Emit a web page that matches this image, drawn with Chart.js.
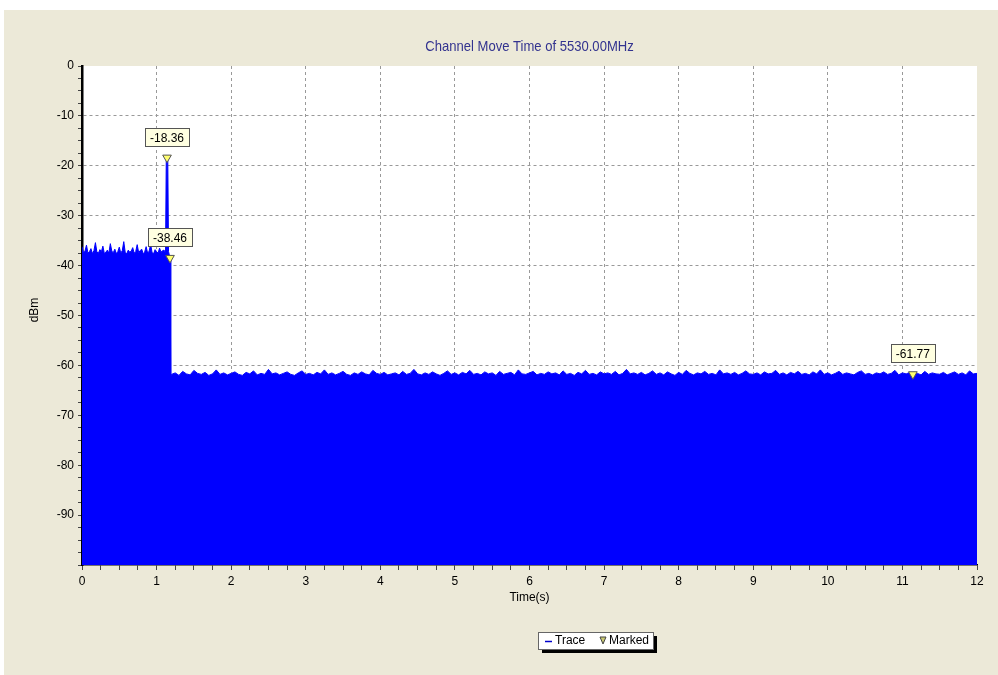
<!DOCTYPE html>
<html>
<head>
<meta charset="utf-8">
<script src="https://cdn.jsdelivr.net/npm/chart.js@4.4.0/dist/chart.umd.min.js"></script>
<style>
  html, body { margin: 0; padding: 0; background: #ffffff; }
  #wrap { position: absolute; left: 4px; top: 10px; width: 994px; height: 665px; background: #ece9d8; }
</style>
</head>
<body>
<div id="wrap"><canvas id="plot-channel"></canvas></div>
<script>
// trace before the channel move (s, dBm)
const timeBefore = [0, 0.02, 0.04, 0.06, 0.08, 0.10, 0.12, 0.14, 0.16, 0.18,
  0.20, 0.22, 0.24, 0.26, 0.28, 0.30, 0.32, 0.34, 0.36, 0.38,
  0.40, 0.42, 0.44, 0.46, 0.48, 0.50, 0.52, 0.54, 0.56, 0.58,
  0.60, 0.62, 0.64, 0.66, 0.68, 0.70, 0.72, 0.74, 0.76, 0.78,
  0.80, 0.82, 0.84, 0.86, 0.88, 0.90, 0.92, 0.94, 0.96, 0.98,
  1.00, 1.02, 1.04, 1.06, 1.08, 1.10, 1.12,
  1.13, 1.15, 1.16, 1.18];
const dbmBefore = [-36.2, -37.4, -37.1, -35.9, -37.5, -37.2, -36.6, -37.6, -37.0, -35.4,
  -37.3, -37.5, -36.8, -37.2, -36.1, -37.6, -37.3, -36.9, -37.5, -35.6,
  -37.1, -37.4, -36.7, -37.6, -37.2, -36.3, -37.5, -37.0, -35.2, -37.4,
  -37.6, -36.9, -37.3, -37.1, -36.4, -37.5, -37.2, -35.8, -37.4, -37.0,
  -36.7, -37.6, -37.3, -36.2, -37.5, -37.1, -35.7, -37.4, -37.6, -36.8,
  -37.2, -37.5, -36.5, -37.3, -37.0, -36.9, -37.4,
  -18.36, -18.36, -37.2, -38.46];

// trace after the channel move
const timeAfter = [1.19, 1.20, 1.25, 1.30, 1.35, 1.40, 1.45, 1.50, 1.55, 1.60, 1.65, 1.70, 1.75, 1.80, 1.85, 1.90, 1.95,
  2.00, 2.05, 2.10, 2.15, 2.20, 2.25, 2.30, 2.35, 2.40, 2.45, 2.50, 2.55, 2.60, 2.65, 2.70, 2.75, 2.80, 2.85, 2.90, 2.95,
  3.00, 3.05, 3.10, 3.15, 3.20, 3.25, 3.30, 3.35, 3.40, 3.45, 3.50, 3.55, 3.60, 3.65, 3.70, 3.75, 3.80, 3.85, 3.90, 3.95,
  4.00, 4.05, 4.10, 4.15, 4.20, 4.25, 4.30, 4.35, 4.40, 4.45, 4.50, 4.55, 4.60, 4.65, 4.70, 4.75, 4.80, 4.85, 4.90, 4.95,
  5.00, 5.05, 5.10, 5.15, 5.20, 5.25, 5.30, 5.35, 5.40, 5.45, 5.50, 5.55, 5.60, 5.65, 5.70, 5.75, 5.80, 5.85, 5.90, 5.95,
  6.00, 6.05, 6.10, 6.15, 6.20, 6.25, 6.30, 6.35, 6.40, 6.45, 6.50, 6.55, 6.60, 6.65, 6.70, 6.75, 6.80, 6.85, 6.90, 6.95,
  7.00, 7.05, 7.10, 7.15, 7.20, 7.25, 7.30, 7.35, 7.40, 7.45, 7.50, 7.55, 7.60, 7.65, 7.70, 7.75, 7.80, 7.85, 7.90, 7.95,
  8.00, 8.05, 8.10, 8.15, 8.20, 8.25, 8.30, 8.35, 8.40, 8.45, 8.50, 8.55, 8.60, 8.65, 8.70, 8.75, 8.80, 8.85, 8.90, 8.95,
  9.00, 9.05, 9.10, 9.15, 9.20, 9.25, 9.30, 9.35, 9.40, 9.45, 9.50, 9.55, 9.60, 9.65, 9.70, 9.75, 9.80, 9.85, 9.90, 9.95,
  10.00, 10.05, 10.10, 10.15, 10.20, 10.25, 10.30, 10.35, 10.40, 10.45, 10.50, 10.55, 10.60, 10.65, 10.70, 10.75, 10.80, 10.85, 10.90, 10.95,
  11.00, 11.05, 11.10, 11.15, 11.20, 11.25, 11.30, 11.35, 11.40, 11.45, 11.50, 11.55, 11.60, 11.65, 11.70, 11.75, 11.80, 11.85, 11.90, 11.95,
  12.00];
const dbmAfter = [-62.3,
  -61.8, -61.5, -62.0, -61.2, -61.7, -61.9, -61.0, -61.6, -61.8, -61.4,
  -62.0, -61.7, -60.9, -61.8, -61.5, -61.9, -61.6, -61.3, -61.8, -62.0,
  -61.4, -61.7, -61.1, -61.9, -61.6, -61.8, -60.8, -61.7, -61.5, -61.9,
  -61.6, -61.3, -61.8, -62.0, -61.5, -61.1, -61.8, -61.6, -61.9, -61.4,
  -61.7, -60.9, -61.8, -61.5, -61.9, -61.6, -61.2, -61.8, -62.0, -61.5,
  -61.8, -61.3, -61.7, -61.9, -61.0, -61.6, -61.8, -61.4, -61.9, -61.7,
  -61.5, -61.9, -61.2, -61.8, -61.6, -60.8, -61.7, -61.9, -61.5, -61.8,
  -61.3, -61.7, -62.0, -61.6, -61.1, -61.8, -61.5, -61.9, -61.4, -61.7,
  -61.0, -61.8, -61.6, -61.9, -61.3, -61.7, -61.5, -62.0, -61.2, -61.8,
  -61.6, -61.4, -61.9, -60.9, -61.7, -61.8, -61.5, -61.2, -61.9, -61.6,
  -61.8, -61.3, -61.7, -61.5, -61.9, -61.1, -61.8, -61.6, -62.0, -61.4,
  -61.7, -61.0, -61.8, -61.6, -61.9, -61.3, -61.7, -61.5, -61.8, -61.2,
  -61.9, -61.6, -60.8, -61.7, -61.5, -61.8, -61.4, -61.9, -61.6, -61.1,
  -61.8, -61.5, -61.9, -61.3, -61.7, -62.0, -61.4, -61.8, -61.0, -61.6,
  -61.9, -61.5, -61.7, -61.2, -61.8, -61.6, -61.9, -60.9, -61.7, -61.5,
  -61.8, -61.4, -61.9, -61.6, -61.1, -61.7, -61.8, -61.5, -61.9, -61.3,
  -61.7, -61.6, -61.0, -61.8, -61.5, -61.9, -61.4, -61.7, -61.2, -61.8,
  -61.6, -61.9, -61.3, -61.7, -60.9, -61.8, -61.5, -61.9, -61.6, -61.2,
  -61.8, -61.5, -61.7, -61.9, -61.4, -61.1, -61.8, -61.6, -61.9, -61.5,
  -61.7, -61.3, -61.8, -61.6, -61.0, -61.9, -61.5, -61.7, -61.4, -61.8,
  -61.6, -61.9, -61.2, -61.8, -61.5, -61.7, -61.77, -61.4, -61.9, -61.6,
  -61.3, -61.8, -61.5, -61.9, -61.1, -61.7, -61.6];

// markers
const markerTime = [1.14, 1.18, 11.14];
const markerDbm = [-18.36, -38.46, -61.77];

const titleText = "Channel Move Time of 5530.00MHz";
const FONT = "'Liberation Sans', Arial, sans-serif";

let trace = timeBefore.map((t, i) => ({ x: t, y: dbmBefore[i] }))
  .concat(timeAfter.map((t, i) => ({ x: t, y: dbmAfter[i] })));
let marks = markerTime.map((t, i) => ({ x: t, y: markerDbm[i] }));

const decorations = {
  id: "decorations",
  beforeDraw(chart) {
    const { ctx, chartArea: a } = chart;
    ctx.save();
    ctx.fillStyle = "#ffffff";
    ctx.fillRect(a.left, a.top, a.right - a.left, a.bottom - a.top);
    ctx.restore();
  },
  afterDatasetsDraw(chart) {
    const { ctx, scales } = chart;
    ctx.save();
    ctx.font = "12px " + FONT;
    ctx.textAlign = "center";
    ctx.textBaseline = "middle";
    marks.forEach((m) => {
      const px = scales.x.getPixelForValue(m.x);
      const py = scales.y.getPixelForValue(m.y);
      const w = 44, h = 18;
      const bx = Math.round(px - w / 2) + 0.5, by = Math.round(py - 12 - h) + 0.5;
      ctx.fillStyle = "#ffffe1";
      ctx.strokeStyle = "#555555";
      ctx.lineWidth = 1;
      ctx.fillRect(bx, by, w, h);
      ctx.strokeRect(bx, by, w, h);
      ctx.fillStyle = "#000000";
      ctx.fillText(m.y.toFixed(2), px, by + h / 2 + 1);
    });
    ctx.restore();
  },
  afterDraw(chart) {
    const { ctx, chartArea: a } = chart;
    const cx = (a.left + a.right) / 2;
    ctx.save();
    ctx.textAlign = "center";
    ctx.textBaseline = "middle";
    ctx.fillStyle = "#33338f";
    ctx.font = "15px " + FONT;
    ctx.translate(cx, 37);
    ctx.scale(0.87, 1);
    ctx.fillText(titleText, 0, 0);
    ctx.restore();

    ctx.save();
    ctx.textAlign = "center";
    ctx.textBaseline = "middle";
    ctx.fillStyle = "#000000";
    ctx.font = "12px " + FONT;
    ctx.fillText("Time(s)", cx, 588);
    ctx.translate(31, 300);
    ctx.rotate(-Math.PI / 2);
    ctx.fillText("dBm", 0, 0);
    ctx.restore();

    // legend box
    const lx = 534, ly = 622, lw = 115, lh = 17;
    ctx.save();
    ctx.fillStyle = "#000000";
    ctx.fillRect(lx + 4, ly + 4, lw, lh);
    ctx.fillStyle = "#ffffff";
    ctx.fillRect(lx, ly, lw, lh);
    ctx.strokeStyle = "#666666";
    ctx.lineWidth = 1;
    ctx.strokeRect(lx + 0.5, ly + 0.5, lw, lh);
    ctx.strokeStyle = "#0000cc";
    ctx.lineWidth = 1.5;
    ctx.beginPath();
    ctx.moveTo(lx + 7, ly + 9.5);
    ctx.lineTo(lx + 14, ly + 9.5);
    ctx.stroke();
    ctx.fillStyle = "#000000";
    ctx.font = "12px " + FONT;
    ctx.textBaseline = "middle";
    ctx.textAlign = "left";
    ctx.fillText("Trace", lx + 17, ly + 9);
    ctx.fillStyle = "#c8c870";
    ctx.strokeStyle = "#444444";
    ctx.lineWidth = 1;
    ctx.beginPath();
    ctx.moveTo(lx + 62, ly + 5);
    ctx.lineTo(lx + 68, ly + 5);
    ctx.lineTo(lx + 65, ly + 12);
    ctx.closePath();
    ctx.fill();
    ctx.stroke();
    ctx.fillStyle = "#000000";
    ctx.fillText("Marked", lx + 71, ly + 9);
    ctx.restore();
  },
};

function makeChart() {
  let canvas = document.getElementById("plot-channel");
  const myChart = new Chart(canvas, {
    type: "scatter",
    data: {
      datasets: [
        {
          label: "Marked",
          data: marks,
          pointStyle: "triangle",
          rotation: 180,
          pointRadius: 5,
          backgroundColor: "#ffff70",
          borderColor: "#555555",
          borderWidth: 1,
          showLine: false,
        },
        {
          label: "Trace",
          data: trace,
          showLine: true,
          borderColor: "#0000ff",
          backgroundColor: "#0000ff",
          borderWidth: 1,
          pointRadius: 0,
          fill: "start",
          tension: 0,
        },
      ],
    },
    options: {
      responsive: true,
      maintainAspectRatio: false,
      animation: false,
      layout: { padding: { top: 56, right: 21, left: 0, bottom: 0 } },
      plugins: {
        legend: { display: false },
        tooltip: { enabled: false },
      },
      scales: {
        x: {
          type: "linear",
          min: 0,
          max: 12,
          afterFit: (s) => { s.height = 110; },
          border: { display: true, color: "#000000", width: 1.5, dash: [3, 3] },
          grid: {
            color: (c) => (c.tick && Number.isInteger(c.tick.value) && c.tick.value > 0 && c.tick.value < 12 ? "#999999" : "rgba(0,0,0,0)"),
            tickColor: "#444444",
            tickLength: 5,
          },
          ticks: {
            stepSize: 0.25,
            autoSkip: false,
            maxRotation: 0,
            padding: 4,
            color: "#000000",
            font: { size: 12, family: FONT },
            callback: (v) => (Number.isInteger(v) ? String(v) : ""),
          },
        },
        y: {
          min: -100,
          max: 0,
          afterFit: (s) => { s.width = 78; },
          border: { display: true, color: "#000000", width: 2.5, dash: [3, 3] },
          grid: {
            color: (c) => (c.tick && c.tick.value % 10 === 0 && c.tick.value < 0 && c.tick.value > -100 ? "#999999" : "rgba(0,0,0,0)"),
            tickColor: "#444444",
            tickLength: 4,
          },
          ticks: {
            stepSize: 2.5,
            autoSkip: false,
            padding: 4,
            color: "#000000",
            font: { size: 12, family: FONT },
            callback: (v) => (v % 10 === 0 && v > -100 ? String(v) : ""),
          },
        },
      },
    },
    plugins: [decorations],
  });
}

makeChart();
</script>
</body>
</html>
